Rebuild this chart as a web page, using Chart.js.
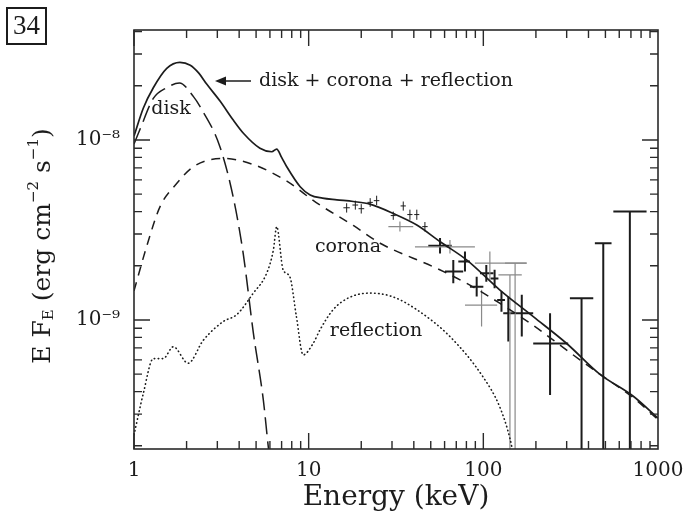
<!DOCTYPE html>
<html>
<head>
<meta charset="utf-8">
<script src="https://cdn.jsdelivr.net/npm/chart.js@4"></script>
<style>
  html, body { margin: 0; padding: 0; background: #fff; }
</style>
</head>
<body>
<canvas id="specChart" width="687" height="529"></canvas>
<script>
// ---- data (energy in keV, E F_E in erg cm^-2 s^-1) ----
const totalE = [1.0, 1.13, 1.29, 1.54, 1.83, 2.1, 2.35, 2.6, 3.1, 3.7, 4.23, 5.26, 6.15, 6.56, 7.0, 7.49, 8.94, 10.2, 12.0, 14.5, 18.0, 22.4, 30.6, 41.6, 56.6, 80.5, 124, 194, 300, 464, 722, 1000];
const totalF = [1.05e-8, 1.5e-8, 1.95e-8, 2.5e-8, 2.7e-8, 2.6e-8, 2.35e-8, 2.05e-8, 1.65e-8, 1.29e-8, 1.09e-8, 9.0e-9, 8.6e-9, 8.9e-9, 8.0e-9, 7.1e-9, 5.5e-9, 4.95e-9, 4.75e-9, 4.65e-9, 4.55e-9, 4.4e-9, 3.9e-9, 3.37e-9, 2.72e-9, 2.15e-9, 1.47e-9, 1.04e-9, 7.4e-10, 5.0e-10, 3.77e-10, 2.85e-10];

const diskE = [1.0, 1.08, 1.29, 1.54, 1.82, 2.19, 2.39, 3.1, 3.7, 4.23, 4.82, 5.5, 5.9, 6.1];
const diskF = [9.5e-9, 1.14e-8, 1.7e-8, 1.95e-8, 2.07e-8, 1.74e-8, 1.53e-8, 9.2e-9, 4.8e-9, 2.3e-9, 8.5e-10, 3.6e-10, 1.9e-10, 1.5e-10];

const coronaE = [1.0, 1.18, 1.41, 1.76, 2.19, 3.24, 4.82, 7.5, 11.0, 18.0, 26.0, 52.0, 80.0, 124, 194, 300, 464, 722, 1000];
const coronaF = [1.45e-9, 2.55e-9, 4.26e-9, 5.74e-9, 7.1e-9, 7.9e-9, 7.3e-9, 5.9e-9, 4.5e-9, 3.35e-9, 2.65e-9, 1.97e-9, 1.6e-9, 1.24e-9, 9.3e-10, 6.8e-10, 5.0e-10, 3.7e-10, 2.8e-10];

const reflE = [1.0, 1.13, 1.29, 1.47, 1.68, 2.04, 2.49, 3.24, 3.87, 4.82, 5.75, 6.28, 6.56, 7.14, 7.8, 8.5, 9.3, 10.6, 11.6, 13.8, 17.0, 22.4, 30.0, 41.6, 64.3, 100, 124, 142, 150];
const reflF = [2.3e-10, 3.9e-10, 6.1e-10, 6.1e-10, 7.1e-10, 5.75e-10, 7.7e-10, 9.8e-10, 1.07e-9, 1.41e-9, 1.82e-9, 2.45e-9, 3.3e-9, 1.9e-9, 1.74e-9, 1.05e-9, 6.4e-10, 7.4e-10, 8.8e-10, 1.14e-9, 1.33e-9, 1.41e-9, 1.35e-9, 1.14e-9, 8.1e-10, 4.8e-10, 3.3e-10, 2.2e-10, 1.7e-10];

// black data crosses
const blkE   = [56.5, 67.3, 78.5, 91.6, 104, 116, 127, 139, 166, 241];
const blkF   = [2.58e-9, 1.86e-9, 2.11e-9, 1.53e-9, 1.82e-9, 1.70e-9, 1.29e-9, 1.09e-9, 1.09e-9, 7.4e-10];
const blkElo = [48.4, 60.3, 71.9, 83.8, 95.7, 110, 120, 130, 148, 193];
const blkEhi = [65.9, 76.7, 83.8, 100, 114, 122, 133, 148, 193, 306];
const blkFlo = [2.34e-9, 1.60e-9, 1.86e-9, 1.35e-9, 1.63e-9, 1.50e-9, 1.11e-9, 7.6e-10, 8.1e-10, 3.83e-10];
const blkFhi = [2.85e-9, 2.15e-9, 2.40e-9, 1.74e-9, 2.02e-9, 1.90e-9, 1.44e-9, 1.35e-9, 1.38e-9, 1.09e-9];

// black upper limits (bar hangs from the cap)
const blkUlE   = [365, 486, 690];
const blkUlElo = [313, 435, 555];
const blkUlEhi = [426, 542, 860];
const blkUlTop = [1.32e-9, 2.67e-9, 4.0e-9];

// grey data crosses
const gryE   = [33.3, 64.4, 109, 97.7];
const gryF   = [3.30e-9, 2.55e-9, 2.07e-9, 1.21e-9];
const gryElo = [28.6, 40.6, 89.5, 78.5];
const gryEhi = [39.7, 89.5, 177, 120];
const gryFlo = [3.10e-9, 2.34e-9, 1.67e-9, 9.2e-10];
const gryFhi = [3.52e-9, 2.78e-9, 2.40e-9, 1.47e-9];

const gryUlE   = [142, 152];
const gryUlElo = [122, 133];
const gryUlEhi = [166, 177];
const gryUlTop = [1.78e-9, 2.07e-9];

// small crosses on the 15-50 keV plateau
const smE   = [16.5, 18.5, 20.0, 22.5, 24.5, 30.5, 34.8, 38.0, 41.6, 46.3];
const smF   = [4.2e-9, 4.35e-9, 4.15e-9, 4.5e-9, 4.6e-9, 3.8e-9, 4.3e-9, 3.85e-9, 3.85e-9, 3.3e-9];
const smElo = [15.8, 17.8, 19.3, 21.7, 23.6, 29.5, 33.6, 36.7, 40.2, 44.7];
const smEhi = [17.2, 19.2, 20.8, 23.3, 25.4, 31.5, 36.0, 39.3, 43.0, 48.0];
const smFlo = [3.95e-9, 4.1e-9, 3.9e-9, 4.25e-9, 4.35e-9, 3.6e-9, 4.05e-9, 3.6e-9, 3.6e-9, 3.1e-9];
const smFhi = [4.45e-9, 4.6e-9, 4.4e-9, 4.75e-9, 4.9e-9, 4.0e-9, 4.55e-9, 4.1e-9, 4.1e-9, 3.5e-9];

const xTickValues = [1, 10, 100, 1000];
const xTickLabels = ["1", "10", "100", "1000"];
const yTickValues = [1e-9, 1e-8];
const yTickLabels = ["10\u207B\u2079", "10\u207B\u2078"];

const xMin = 1, xMax = 1000;
const yMin = 1.92e-10, yMax = 4.08e-8;
const floorF = 1e-10;

function curve(xs, ys) {
    return xs.map((x, i) => ({x: x, y: ys[i]}));
}

function crosses(e, f, elo, ehi, flo, fhi) {
    const pts = [];
    e.forEach((v, i) => {
        pts.push({x: elo[i], y: f[i]}, {x: ehi[i], y: f[i]}, {x: v, y: null});
        pts.push({x: v, y: flo[i]}, {x: v, y: fhi[i]}, {x: v, y: null});
    });
    return pts;
}

function limits(e, elo, ehi, top) {
    const pts = [];
    e.forEach((v, i) => {
        pts.push({x: elo[i], y: top[i]}, {x: ehi[i], y: top[i]}, {x: v, y: null});
        pts.push({x: v, y: top[i]}, {x: v, y: floorF}, {x: v, y: null});
    });
    return pts;
}

const ink = "#1c1c1c";
const serif = "'DejaVu Serif', serif";

const lineBase = {
    pointRadius: 0,
    fill: false,
    borderColor: ink,
    cubicInterpolationMode: "monotone"
};

const barBase = {
    pointRadius: 0,
    fill: false,
    spanGaps: false,
    tension: 0
};

const decorPlugin = {
    id: "decor",
    afterDraw(chart) {
        const ctx = chart.ctx;
        const a = chart.chartArea;
        const xs = chart.scales.x;
        const ys = chart.scales.y;
        ctx.save();

        // frame
        ctx.strokeStyle = "#2a2a2a";
        ctx.lineWidth = 1.6;
        ctx.strokeRect(a.left, a.top, a.right - a.left, a.bottom - a.top);

        // inward ticks on all four sides
        ctx.lineWidth = 1.4;
        for (let d = 1; d < 1000; d *= 10) {
            for (let m = 1; m <= 9; m++) {
                const v = d * m;
                const px = xs.getPixelForValue(v);
                const len = m === 1 ? 16 : 8;
                ctx.beginPath();
                ctx.moveTo(px, a.bottom); ctx.lineTo(px, a.bottom - len);
                ctx.moveTo(px, a.top); ctx.lineTo(px, a.top + len);
                ctx.stroke();
            }
        }
        for (let d = 1e-10; d < 1e-7; d *= 10) {
            for (let m = 1; m <= 9; m++) {
                const v = d * m;
                if (v < yMin || v > yMax) continue;
                const py = ys.getPixelForValue(v);
                const len = m === 1 ? 16 : 8;
                ctx.beginPath();
                ctx.moveTo(a.left, py); ctx.lineTo(a.left + len, py);
                ctx.moveTo(a.right, py); ctx.lineTo(a.right - len, py);
                ctx.stroke();
            }
        }

        // curve labels
        ctx.fillStyle = ink;
        ctx.font = "19px " + serif;
        ctx.textBaseline = "middle";
        ctx.textAlign = "left";
        ctx.fillText("disk + corona + reflection", 259, 81);
        ctx.textAlign = "center";
        ctx.fillText("disk", 171, 109);
        ctx.fillText("corona", 348, 247);
        ctx.fillText("reflection", 376, 331);

        // arrow to total curve
        ctx.strokeStyle = ink;
        ctx.lineWidth = 1.6;
        ctx.beginPath();
        ctx.moveTo(251, 81); ctx.lineTo(218, 81);
        ctx.stroke();
        ctx.beginPath();
        ctx.moveTo(215, 81); ctx.lineTo(226, 76.5); ctx.lineTo(226, 85.5);
        ctx.closePath();
        ctx.fill();

        // panel number
        ctx.lineWidth = 2;
        ctx.strokeRect(7, 8, 39, 36);
        ctx.font = "27px 'Liberation Serif', serif";
        ctx.fillText("34", 26.5, 27);

        // y-axis title with sub/superscripts
        const parts = [
            {t: "E F", s: 25, dy: 0},
            {t: "E", s: 15, dy: 6},
            {t: " (erg cm", s: 25, dy: 0},
            {t: "\u22122", s: 15, dy: -9},
            {t: " s", s: 25, dy: 0},
            {t: "\u22121", s: 15, dy: -9},
            {t: ")", s: 25, dy: 0}
        ];
        let total = 0;
        parts.forEach(p => {
            ctx.font = p.s + "px " + serif;
            p.w = ctx.measureText(p.t).width;
            total += p.w;
        });
        ctx.translate(43, 246);
        ctx.rotate(-Math.PI / 2);
        ctx.textAlign = "left";
        let cx = -total / 2;
        parts.forEach(p => {
            ctx.font = p.s + "px " + serif;
            ctx.fillText(p.t, cx, p.dy);
            cx += p.w;
        });
        ctx.restore();
    }
};

const chartCanvas = document.getElementById("specChart");

new Chart(chartCanvas.getContext("2d"), {
    type: "line",
    data: {
        datasets: [
            Object.assign({}, lineBase, {label: "disk + corona + reflection", data: curve(totalE, totalF), borderWidth: 1.7}),
            Object.assign({}, lineBase, {label: "disk", data: curve(diskE, diskF), borderWidth: 1.5, borderDash: [17, 7]}),
            Object.assign({}, lineBase, {label: "corona", data: curve(coronaE, coronaF), borderWidth: 1.5, borderDash: [9, 7]}),
            Object.assign({}, lineBase, {label: "reflection", data: curve(reflE, reflF), borderWidth: 1.6, borderDash: [0.5, 3.5], borderCapStyle: "round"}),
            Object.assign({}, barBase, {label: "plateau", data: crosses(smE, smF, smElo, smEhi, smFlo, smFhi), borderColor: ink, borderWidth: 1}),
            Object.assign({}, barBase, {label: "grey", data: crosses(gryE, gryF, gryElo, gryEhi, gryFlo, gryFhi), borderColor: "#8a8a8a", borderWidth: 1.2}),
            Object.assign({}, barBase, {label: "grey limits", data: limits(gryUlE, gryUlElo, gryUlEhi, gryUlTop), borderColor: "#8a8a8a", borderWidth: 1.2}),
            Object.assign({}, barBase, {label: "black", data: crosses(blkE, blkF, blkElo, blkEhi, blkFlo, blkFhi), borderColor: ink, borderWidth: 2}),
            Object.assign({}, barBase, {label: "black limits", data: limits(blkUlE, blkUlElo, blkUlEhi, blkUlTop), borderColor: ink, borderWidth: 2})
        ]
    },
    options: {
        responsive: false,
        animation: false,
        layout: {
            padding: {left: 0, top: 30, right: 29, bottom: 0}
        },
        plugins: {
            legend: {display: false},
            tooltip: {enabled: false}
        },
        scales: {
            x: {
                type: "logarithmic",
                min: xMin,
                max: xMax,
                afterBuildTicks: s => { s.ticks = xTickValues.map(v => ({value: v})); },
                afterFit: s => { s.height = 80; s.paddingLeft = 0; s.paddingRight = 0; },
                grid: {display: false, drawTicks: false},
                border: {display: false},
                ticks: {
                    autoSkip: false,
                    maxRotation: 0,
                    padding: 10,
                    color: ink,
                    font: {family: serif, size: 20},
                    callback: (v) => xTickLabels[xTickValues.indexOf(v)]
                },
                title: {
                    display: true,
                    text: "Energy (keV)",
                    color: ink,
                    font: {family: serif, size: 28},
                    padding: {top: 0, bottom: 14}
                }
            },
            y: {
                type: "logarithmic",
                min: yMin,
                max: yMax,
                afterBuildTicks: s => { s.ticks = yTickValues.map(v => ({value: v})); },
                afterFit: s => { s.width = 134; s.paddingTop = 0; s.paddingBottom = 0; },
                grid: {display: false, drawTicks: false},
                border: {display: false},
                ticks: {
                    autoSkip: false,
                    padding: 14,
                    color: ink,
                    font: {family: serif, size: 20},
                    callback: (v) => yTickLabels[yTickValues.indexOf(v)]
                }
            }
        }
    },
    plugins: [decorPlugin]
});
</script>
</body>
</html>
